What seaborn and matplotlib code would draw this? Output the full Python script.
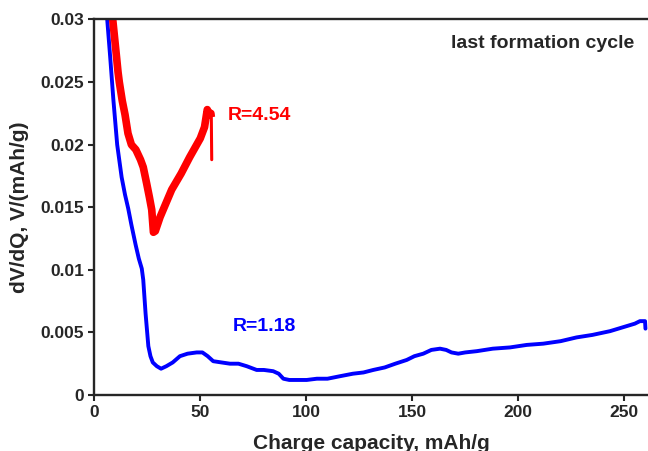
import pandas as pd
import matplotlib
matplotlib.use('Agg')
import matplotlib.pyplot as plt
import seaborn as sns

# values
blue_x = [6.1, 7.5, 9.0, 10.8, 12.9, 14.5, 16.0, 17.5, 19.5, 21.0, 22.4, 23.1, 24.2, 25.5,
          26.5, 27.6, 29.5, 31.5, 34.0, 37.0, 40.4, 44.0, 48.3, 51.0, 53.5, 56.1, 60.0, 64.0,
          68.0, 71.9, 76.6, 80.0, 84.4, 87.0, 89.2, 92.0, 96.0, 100.2, 105.0, 110.0, 115.9,
          122.0, 127.0, 131.6, 137.0, 142.0, 147.4, 151.0, 155.2, 159.0, 163.1, 166.0, 168.5,
          171.7, 175.0, 180.4, 188.0, 196.1, 204.0, 211.8, 220.0, 227.5, 235.0, 243.3, 251.1,
          255.0, 257.4, 259.8, 260.0]
blue_y = [0.0300, 0.0270, 0.0236, 0.0200, 0.0174, 0.0160, 0.0149, 0.0136, 0.0120, 0.0109,
          0.0101, 0.0092, 0.0065, 0.0039, 0.0031, 0.0026, 0.0023, 0.0021, 0.0023, 0.0026,
          0.0031, 0.0033, 0.0034, 0.0034, 0.0031, 0.0027, 0.0026, 0.0025, 0.0025, 0.0023,
          0.0020, 0.0020, 0.0019, 0.0017, 0.0013, 0.0012, 0.0012, 0.0012, 0.0013, 0.0013,
          0.0015, 0.0017, 0.0018, 0.0020, 0.0022, 0.0025, 0.0028, 0.0031, 0.0033, 0.0036,
          0.0037, 0.0036, 0.0034, 0.0033, 0.0034, 0.0035, 0.0037, 0.0038, 0.0040, 0.0041,
          0.0043, 0.0046, 0.0048, 0.0051, 0.0055, 0.0057, 0.0059, 0.0059, 0.0053]

red_x = [8.7, 10.2, 11.2, 11.8, 13.2, 14.5, 15.9, 17.5, 19.6, 21.8, 23.1, 24.7, 26.0, 27.1,
         27.9, 28.8, 31.0, 33.0, 36.5, 41.0, 45.0, 50.0, 52.0, 53.3, 54.3, 55.0, 55.2, 55.4]
red_y = [0.0300, 0.0275, 0.0258, 0.0250, 0.0235, 0.0224, 0.0209, 0.0200, 0.0196, 0.0188,
         0.0182, 0.0169, 0.0158, 0.0148, 0.0130, 0.0131, 0.0142, 0.0150, 0.0164, 0.0177,
         0.0190, 0.0205, 0.0214, 0.0228, 0.0224, 0.0225, 0.0222, 0.0188]

x_ticks = [0, 50, 100, 150, 200, 250]
y_ticks = [0, 0.005, 0.01, 0.015, 0.02, 0.025, 0.03]
y_tick_labels = ['0', '0.005', '0.01', '0.015', '0.02', '0.025', '0.03']

sns.set_theme(style='ticks')
plt.rcParams['font.family'] = ['Liberation Sans', 'DejaVu Sans']
plt.rcParams['font.weight'] = 'bold'


def main():
    blue = pd.DataFrame({'x': blue_x, 'y': blue_y})
    red = pd.DataFrame({'x': red_x, 'y': red_y})
    red_body = red.iloc[:-1]     # the noisy band
    red_drop = red.iloc[-2:]     # thin drop at the end

    fig = plt.figure(figsize=(6.48, 4.51), dpi=100)
    ax = fig.add_axes([0.1455, 0.1242, 0.8545, 0.8326])

    sns.lineplot(data=blue, x='x', y='y', color='#0000ff', lw=2.8,
                 estimator=None, sort=False, ax=ax)
    sns.lineplot(data=red_body, x='x', y='y', color='#ff0000', lw=5.5,
                 estimator=None, sort=False, ax=ax,
                 solid_joinstyle='round', solid_capstyle='butt')
    sns.lineplot(data=red_drop, x='x', y='y', color='#ff0000', lw=2.2,
                 estimator=None, sort=False, ax=ax)

    ax.set_xlim(0, 261.2)
    ax.set_ylim(0, 0.03)
    ax.set_xticks(x_ticks)
    ax.set_yticks(y_ticks, y_tick_labels)
    ax.tick_params(direction='out', length=4, width=1.5, labelsize=12.5)
    for lab in ax.get_xticklabels() + ax.get_yticklabels():
        lab.set_fontweight('bold')

    for side in ['left', 'bottom', 'top']:
        ax.spines[side].set_linewidth(1.7)
    ax.spines['right'].set_visible(False)

    ax.set_xlabel('Charge capacity, mAh/g', fontsize=15, fontweight='bold', labelpad=10)
    ax.set_ylabel('dV/dQ, V/(mAh/g)', fontsize=15, fontweight='bold', labelpad=8)

    ax.text(63.1, 0.0223, 'R=4.54', color='#ff0000', fontsize=14, fontweight='bold',
            va='center', ha='left')
    ax.text(65.5, 0.00547, 'R=1.18', color='#0000ff', fontsize=14, fontweight='bold',
            va='center', ha='left')
    ax.text(0.975, 0.935, 'last formation cycle', transform=ax.transAxes,
            fontsize=14, fontweight='bold', ha='right', va='center')

    fig.savefig('out.png', dpi=100)
    plt.close(fig)


if __name__ == "__main__":
    main()
